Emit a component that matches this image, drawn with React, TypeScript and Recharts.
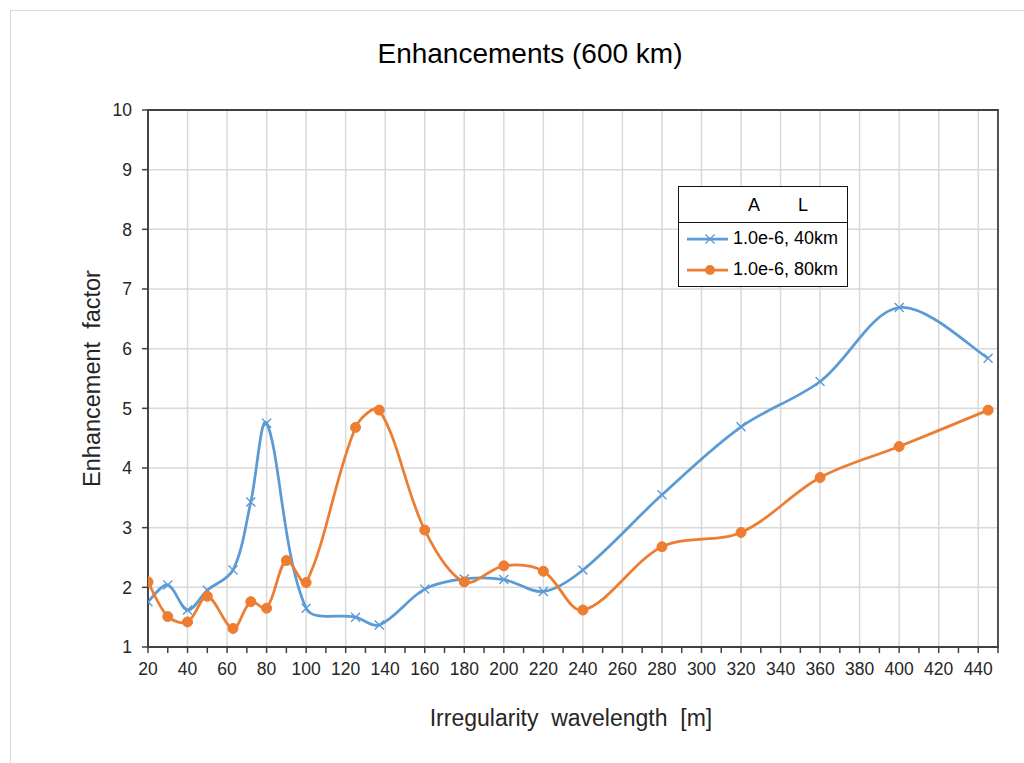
import React from 'react';
import { LineChart, Line, XAxis, YAxis, CartesianGrid, Legend, ReferenceArea } from 'recharts';

// ---- data ----
const blueX = [20, 30, 40, 50, 63, 72, 80, 100, 125, 137, 160, 180, 200, 220, 240, 280, 320, 360, 400, 445];
const blueY = [1.76, 2.04, 1.62, 1.95, 2.29, 3.43, 4.75, 1.65, 1.5, 1.37, 1.97, 2.14, 2.13, 1.93, 2.29, 3.55, 4.69, 5.45, 6.69, 5.84];
const orangeX = [20, 30, 40, 50, 63, 72, 80, 90, 100, 125, 137, 160, 180, 200, 220, 240, 280, 320, 360, 400, 445];
const orangeY = [2.09, 1.51, 1.42, 1.85, 1.31, 1.76, 1.65, 2.45, 2.08, 4.68, 4.97, 2.96, 2.09, 2.36, 2.27, 1.62, 2.68, 2.92, 3.84, 4.36, 4.97];
const seriesNames = ['1.0e-6, 40km', '1.0e-6, 80km'];
const xTicks = [20, 30, 40, 50, 60, 70, 80, 90, 100, 110, 120, 130, 140, 150, 160, 170, 180, 190, 200, 210, 220, 230, 240, 250, 260, 270, 280, 290, 300, 310, 320, 330, 340, 350, 360, 370, 380, 390, 400, 410, 420, 430, 440, 450];
const xLabelTicks = [20, 40, 60, 80, 100, 120, 140, 160, 180, 200, 220, 240, 260, 280, 300, 320, 340, 360, 380, 400, 420, 440];
const yTicks = [1, 2, 3, 4, 5, 6, 7, 8, 9, 10];

const blueData = blueX.map((x, i) => ({ x, y: blueY[i] }));
const orangeData = orangeX.map((x, i) => ({ x, y: orangeY[i] }));

const BLUE = '#5B9BD5';
const ORANGE = '#ED7D31';
const AXIS = '#404040';
const GRID = '#d9d9d9';
const FONT = '"Liberation Sans", Arial, sans-serif';
const X_MIN = 20;
const X_MAX = 450;

// Excel-like smoothing (non-uniform Catmull-Rom as cubic Bezier)
const excelSmooth: any = (context: any) => {
  let pts: number[][] = [];
  const dist = (a: number[], b: number[]) => Math.hypot(a[0] - b[0], a[1] - b[1]);
  return {
    areaStart() {},
    areaEnd() {},
    lineStart() { pts = []; },
    point(x: number, y: number) { pts.push([+x, +y]); },
    lineEnd() {
      const n = pts.length;
      if (!n) return;
      context.moveTo(pts[0][0], pts[0][1]);
      for (let i = 0; i < n - 1; i++) {
        const p0 = pts[Math.max(i - 1, 0)];
        const p1 = pts[i];
        const p2 = pts[i + 1];
        const p3 = pts[Math.min(i + 2, n - 1)];
        const l01 = dist(p0, p1);
        const l12 = dist(p1, p2);
        const l23 = dist(p2, p3);
        const f1 = i === 0 ? 1 / 6 : l12 / (l01 + l12) / 3;
        const f2 = i + 2 > n - 1 ? 1 / 6 : l12 / (l12 + l23) / 3;
        context.bezierCurveTo(
          p1[0] + (p2[0] - p0[0]) * f1, p1[1] + (p2[1] - p0[1]) * f1,
          p2[0] - (p3[0] - p1[0]) * f2, p2[1] - (p3[1] - p1[1]) * f2,
          p2[0], p2[1]
        );
      }
    },
  };
};

const CrossDot = (props: any) => {
  const { cx, cy, index } = props;
  if (cx == null || cy == null) return <g key={`bx-${index}`} />;
  const s = 4.5;
  return (
    <path
      key={`bx-${index}`}
      d={`M${cx - s},${cy - s}L${cx + s},${cy + s}M${cx - s},${cy + s}L${cx + s},${cy - s}`}
      stroke={BLUE}
      strokeWidth={1.4}
      fill="none"
    />
  );
};

const CircleDot = (props: any) => {
  const { cx, cy, index } = props;
  if (cx == null || cy == null) return <g key={`oc-${index}`} />;
  return <circle key={`oc-${index}`} cx={cx} cy={cy} r={5} fill={ORANGE} stroke={ORANGE} strokeWidth={1} />;
};

const XTick = (props: any) => {
  const { x, y, payload } = props;
  const v = payload.value;
  if (!xLabelTicks.includes(v)) return <g />;
  return (
    <text x={x} y={y} dy="0.71em" textAnchor="middle" fill="#262626" fontSize={17.5} fontFamily={FONT}>
      {v}
    </text>
  );
};

const LegendBox = () => (
  <div style={{ position: 'relative', width: 170, height: 101, fontFamily: FONT, fontSize: 18, color: '#000' }}>
    <div style={{ position: 'absolute', left: 0, top: 0, width: 170, height: 38, boxSizing: 'border-box', border: '1.5px solid #111', background: '#fff' }}>
      <span style={{ position: 'absolute', left: 69, top: 8 }}>A</span>
      <span style={{ position: 'absolute', left: 119, top: 8 }}>L</span>
    </div>
    <div style={{ position: 'absolute', left: 0, top: 36, width: 170, height: 65, boxSizing: 'border-box', border: '1.5px solid #111', background: '#fff' }} />
    <svg style={{ position: 'absolute', left: 0, top: 0 }} width={170} height={101}>
      <line x1={9} y1={53} x2={50} y2={53} stroke={BLUE} strokeWidth={2.75} />
      <path d="M27.5,48.5L36.5,57.5M27.5,57.5L36.5,48.5" stroke={BLUE} strokeWidth={1.4} />
      <line x1={9} y1={84} x2={50} y2={84} stroke={ORANGE} strokeWidth={2.75} />
      <circle cx={32} cy={84} r={5} fill={ORANGE} />
    </svg>
    <span style={{ position: 'absolute', left: 55, top: 42 }}>{seriesNames[0]}</span>
    <span style={{ position: 'absolute', left: 55, top: 73 }}>{seriesNames[1]}</span>
  </div>
);

const verticalGen = (args: any) => {
  const { offset } = args;
  return xLabelTicks.map((v) => {
    const sc = args?.xAxis?.scale;
    if (sc && typeof sc === 'function') return sc(v);
    return offset.left + ((v - X_MIN) / (X_MAX - X_MIN)) * offset.width;
  });
};

export default function App() {
  return (
    <div style={{ position: 'absolute', left: 0, top: 0, width: 1024, height: 763, overflow: 'hidden', background: '#fff' }}>
      <div style={{ position: 'absolute', left: 10, top: 10, width: 1100, height: 900, borderTop: '1.5px solid #d9d9d9', borderLeft: '1.5px solid #d9d9d9' }} />
      <div style={{ position: 'absolute', left: 0, top: 0 }}>
        <LineChart
          width={1024}
          height={763}
          margin={{ top: 110, right: 26, bottom: 86, left: 108 }}
          style={{ fontFamily: FONT }}
        >
          <CartesianGrid stroke={GRID} strokeWidth={1.5} verticalCoordinatesGenerator={verticalGen} />
          <XAxis
            dataKey="x"
            type="number"
            domain={[X_MIN, X_MAX]}
            ticks={xTicks}
            allowDataOverflow
            height={30}
            tickSize={6}
            tickMargin={10}
            tick={<XTick />}
            interval={0}
            stroke={AXIS}
            axisLine={{ stroke: AXIS, strokeWidth: 1.5 }}
            tickLine={{ stroke: AXIS, strokeWidth: 1.5 }}
          />
          <YAxis
            type="number"
            domain={[1, 10]}
            ticks={yTicks}
            width={40}
            tickSize={6}
            tickMargin={10}
            interval={0}
            tick={{ fill: '#262626', fontSize: 17.5, fontFamily: FONT }}
            axisLine={{ stroke: AXIS, strokeWidth: 1.5 }}
            tickLine={{ stroke: AXIS, strokeWidth: 1.5 }}
          />
          <ReferenceArea x1={X_MIN} x2={X_MAX} y1={1} y2={10} fill="none" fillOpacity={0} stroke={AXIS} strokeWidth={1.8} />
          <Legend
            layout="vertical"
            align="center"
            verticalAlign="middle"
            wrapperStyle={{ position: 'absolute', left: 678, top: 186, width: 170, height: 101 }}
            content={() => <LegendBox />}
          />
          <Line
            data={blueData}
            dataKey="y"
            name={seriesNames[0]}
            type={excelSmooth}
            stroke={BLUE}
            strokeWidth={2.75}
            dot={CrossDot}
            activeDot={false}
            isAnimationActive={false}
          />
          <Line
            data={orangeData}
            dataKey="y"
            name={seriesNames[1]}
            type={excelSmooth}
            stroke={ORANGE}
            strokeWidth={2.75}
            dot={CircleDot}
            activeDot={false}
            isAnimationActive={false}
          />
          <text x={530} y={63} textAnchor="middle" fontSize={28} fontFamily={FONT} fill="#000" style={{ whiteSpace: 'pre' }}>
            Enhancements (600 km)
          </text>
          <text x={571} y={726} textAnchor="middle" fontSize={23} fontFamily={FONT} fill="#262626" style={{ whiteSpace: 'pre' }}>
            {'Irregularity  wavelength  [m]'}
          </text>
          <text
            x={100}
            y={378.5}
            textAnchor="middle"
            fontSize={23.5}
            fontFamily={FONT}
            fill="#262626"
            style={{ whiteSpace: 'pre' }}
            transform="rotate(-90 100 378.5)"
          >
            {'Enhancement  factor'}
          </text>
        </LineChart>
      </div>
    </div>
  );
}
